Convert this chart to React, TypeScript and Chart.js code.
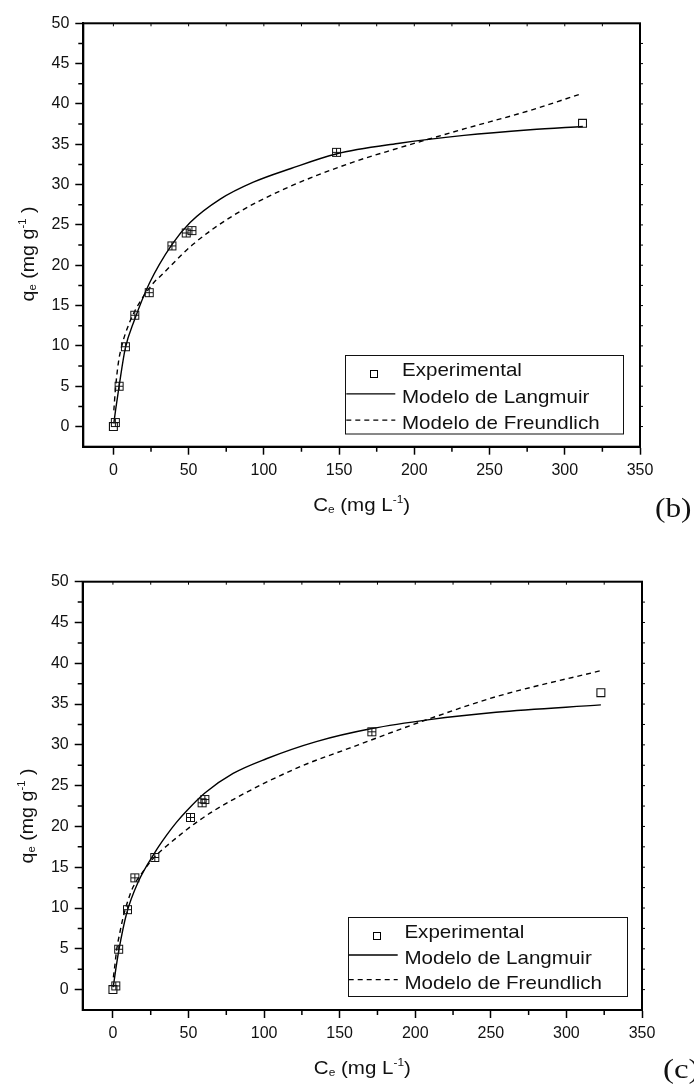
import React, { useEffect, useRef } from 'react';
import { Chart, registerables } from 'chart.js';
Chart.register(...registerables);

const FAMILY = '"Liberation Sans", Arial, sans-serif';
const SERIF = '"Liberation Serif", "Times New Roman", serif';

// ---- tick values ----
const X_TICKS = [0, 50, 100, 150, 200, 250, 300, 350];
const X_MINOR = [25, 75, 125, 175, 225, 275, 325];
const X_TOP = [0, 25, 50, 75, 100, 125, 150, 175, 200, 225, 250, 275, 300, 325];
const Y_TICKS = [0, 5, 10, 15, 20, 25, 30, 35, 40, 45, 50];
const Y_MINOR = [2.5, 7.5, 12.5, 17.5, 22.5, 27.5, 32.5, 37.5, 42.5, 47.5];
const Y_RIGHT = [0, 2.5, 5, 7.5, 10, 12.5, 15, 17.5, 20, 22.5, 25, 27.5, 30, 32.5, 35, 37.5, 40, 42.5, 45, 47.5];

// ---- labels ----
const SERIES_LABELS = ['Experimental', 'Modelo de Langmuir', 'Modelo de Freundlich'];

// ---- panel (b) ----
const CE_EXP_B = [0, 1.3, 3.8, 8.0, 14.2, 23.8, 38.9, 48.4, 52.2, 148.3, 311.8];
const QE_EXP_B = [0, 0.5, 5.0, 9.9, 13.8, 16.6, 22.4, 24.0, 24.3, 34.0, 37.6];
const CE_LANG_B = [0.3, 1.5, 3.8, 7.8, 14, 24, 39, 51, 71, 93, 118, 148, 189, 233, 277, 312];
const QE_LANG_B = [0.4, 2.1, 5.0, 9.6, 13.2, 17.8, 22.6, 25.3, 28.2, 30.3, 32.0, 33.8, 35.1, 36.1, 36.8, 37.2];
const CE_FREU_B = [0.3, 1.3, 3.3, 6, 10.5, 15.6, 26.6, 31, 53, 80, 113, 158, 189, 233, 277, 310];
const QE_FREU_B = [2.0, 4.5, 7.9, 10.3, 12.8, 14.8, 17.8, 18.6, 22.6, 26.2, 29.4, 32.7, 34.5, 36.9, 39.2, 41.2];

// ---- panel (c) ----
const CE_EXP_C = [0, 1.9, 3.8, 9.6, 14.5, 27.7, 51.3, 59, 60.8, 171.3, 322.8];
const QE_EXP_C = [0, 0.45, 4.95, 9.8, 13.7, 16.2, 21.1, 22.9, 23.3, 31.6, 36.4];
const CE_LANG_C = [0.2, 1.5, 3.9, 9, 16.7, 27.7, 35.4, 42, 48.7, 60.8, 79.5, 101.5, 134.5, 171.3, 209.4, 253.4, 322.8];
const QE_LANG_C = [0.3, 2.0, 4.8, 9.3, 13.2, 16.8, 18.9, 20.5, 21.9, 24.1, 26.5, 28.3, 30.4, 32.0, 33.1, 34.0, 34.9];
const CE_FREU_C = [0.3, 1.3, 2.4, 4.6, 6.8, 10.1, 13.4, 20, 27.7, 35.5, 57.5, 79.5, 123.5, 156.5, 209.4, 253.4, 322.8];
const QE_FREU_C = [1.5, 3.0, 4.8, 7.0, 8.9, 11.0, 12.6, 14.5, 16.3, 17.6, 20.8, 23.3, 27.3, 29.6, 33.2, 35.9, 39.1];

const zip = (xs: number[], ys: number[]) => xs.map((x, i) => ({ x, y: ys[i] }));

type Part = { t: string; size: number; dy: number };
const SUB = 11;
const X_TITLE: Part[] = [
  { t: 'C', size: 19, dy: 0 },
  { t: 'e', size: SUB, dy: 2 },
  { t: ' (mg L', size: 19, dy: 0 },
  { t: '-1', size: SUB, dy: -8 },
  { t: ')', size: 19, dy: 0 },
];
const Y_TITLE: Part[] = [
  { t: 'q', size: 19, dy: 0 },
  { t: 'e', size: SUB, dy: 2 },
  { t: ' (mg g', size: 19, dy: 0 },
  { t: '-1', size: SUB, dy: -8 },
  { t: ' )', size: 19, dy: 0 },
];

function drawRich(ctx: CanvasRenderingContext2D, parts: Part[], cx: number, baseline: number, targetW: number) {
  let w = 0;
  for (const p of parts) {
    ctx.font = `${p.size}px ${FAMILY}`;
    w += ctx.measureText(p.t).width;
  }
  const sx = targetW / w;
  ctx.save();
  ctx.translate(cx - targetW / 2, baseline);
  ctx.scale(sx, 1);
  ctx.textBaseline = 'alphabetic';
  ctx.textAlign = 'left';
  let x = 0;
  for (const p of parts) {
    ctx.font = `${p.size}px ${FAMILY}`;
    ctx.fillText(p.t, x, p.dy);
    x += ctx.measureText(p.t).width;
  }
  ctx.restore();
}

function drawStretched(ctx: CanvasRenderingContext2D, text: string, font: string, x: number, y: number, sx: number) {
  ctx.save();
  ctx.font = font;
  ctx.translate(x, y);
  ctx.scale(sx, 1);
  ctx.textAlign = 'left';
  ctx.textBaseline = 'alphabetic';
  ctx.fillText(text, 0, 0);
  ctx.restore();
}

type PanelCfg = {
  H: number;
  area: { left: number; right: number; top: number; bottom: number };
  exp: { x: number; y: number }[];
  lang: { x: number; y: number }[];
  freu: { x: number; y: number }[];
  panelLabel: string;
  panelX: number;
  panelY: number;
  xTitleY: number;
  yTitleX: number;
  yTitleCY: number;
  legend: { right: number; bottom: number; w: number; h: number; rows: number[] };
};

function makeDecor(cfg: PanelCfg) {
  return {
    id: 'decor',
    afterDraw(chart: any) {
      const { ctx, chartArea: a, scales } = chart;
      const x = scales.x;
      const y = scales.y;
      ctx.save();
      ctx.strokeStyle = '#000';
      ctx.fillStyle = '#000';
      // minor + opposite ticks
      ctx.lineWidth = 1.5;
      ctx.beginPath();
      for (const v of X_MINOR) {
        const px = x.getPixelForValue(v);
        ctx.moveTo(px, a.bottom);
        ctx.lineTo(px, a.bottom + 5);
      }
      for (const v of Y_MINOR) {
        const py = y.getPixelForValue(v);
        ctx.moveTo(a.left, py);
        ctx.lineTo(a.left - 5, py);
      }
      ctx.stroke();
      ctx.lineWidth = 1;
      ctx.beginPath();
      for (const v of X_TOP) {
        const px = x.getPixelForValue(v);
        ctx.moveTo(px, a.top);
        ctx.lineTo(px, a.top + 3);
      }
      for (const v of Y_RIGHT) {
        const py = y.getPixelForValue(v);
        ctx.moveTo(a.right, py);
        ctx.lineTo(a.right + 3, py);
      }
      ctx.stroke();
      // frame
      ctx.lineWidth = 2;
      ctx.strokeRect(a.left, a.top, a.right - a.left, a.bottom - a.top);

      // axis titles
      ctx.fillStyle = '#111';
      drawRich(ctx, X_TITLE, (a.left + a.right) / 2, cfg.xTitleY, 97);
      ctx.save();
      ctx.translate(cfg.yTitleX, cfg.yTitleCY);
      ctx.rotate(-Math.PI / 2);
      drawRich(ctx, Y_TITLE, 0, 0, 95);
      ctx.restore();

      // legend
      const L = cfg.legend;
      const bx = a.right - L.right - L.w;
      const by = a.bottom - L.bottom - L.h;
      ctx.lineWidth = 1;
      ctx.strokeStyle = '#111';
      ctx.strokeRect(Math.round(bx) + 0.5, Math.round(by) + 0.5, L.w, L.h);
      const labels: string[] = chart.data.datasets.map((d: any) => d.label);
      const lf = `19px ${FAMILY}`;
      ctx.font = lf;
      const widest = Math.max(...labels.map((t) => ctx.measureText(t).width));
      const sx = 197.6 / widest;
      labels.forEach((t, i) => {
        const base = by + L.rows[i];
        drawStretched(ctx, t, lf, bx + 56.7, base, sx);
        ctx.strokeStyle = '#000';
        if (i === 0) {
          ctx.lineWidth = 1;
          ctx.strokeRect(Math.round(bx + 28.3 - 3.5) + 0.5, Math.round(base - 2.5 - 3.5) + 0.5, 7, 7);
        } else {
          ctx.lineWidth = 1.3;
          ctx.setLineDash(i === 2 ? [5, 4] : []);
          ctx.beginPath();
          ctx.moveTo(bx + 1, base - 9);
          ctx.lineTo(bx + 50, base - 9);
          ctx.stroke();
          ctx.setLineDash([]);
        }
      });

      // panel label
      ctx.font = `27px ${SERIF}`;
      const pw = ctx.measureText(cfg.panelLabel).width;
      drawStretched(ctx, cfg.panelLabel, `27px ${SERIF}`, cfg.panelX, cfg.panelY, 36.5 / pw);
      ctx.restore();
    },
  };
}

function makeCrossImage() {
  const c = document.createElement('canvas');
  c.width = 11;
  c.height = 11;
  const g = c.getContext('2d')!;
  g.strokeStyle = '#111';
  g.lineWidth = 1;
  g.strokeRect(1.5, 1.5, 8, 8);
  g.beginPath();
  g.moveTo(5.5, 1.5);
  g.lineTo(5.5, 9.5);
  g.moveTo(1.5, 5.5);
  g.lineTo(9.5, 5.5);
  g.stroke();
  return c;
}

function buildConfig(cfg: PanelCfg, cross: HTMLCanvasElement): any {
  const W = 694;
  const last = cfg.exp.length - 1;
  return {
    type: 'scatter',
    data: {
      datasets: [
        {
          label: SERIES_LABELS[0],
          data: cfg.exp,
          showLine: false,
          pointStyle: (c: any) => (c.dataIndex === 0 || c.dataIndex === last ? 'rect' : cross),
          pointRadius: 5.6,
          pointBorderWidth: 1.1,
          pointBorderColor: '#111',
          pointBackgroundColor: 'rgba(255,255,255,0)',
        },
        {
          label: SERIES_LABELS[1],
          data: cfg.lang,
          showLine: true,
          pointRadius: 0,
          borderColor: '#000',
          borderWidth: 1.4,
          cubicInterpolationMode: 'monotone',
        },
        {
          label: SERIES_LABELS[2],
          data: cfg.freu,
          showLine: true,
          pointRadius: 0,
          borderColor: '#000',
          borderWidth: 1.4,
          borderDash: [5, 4],
          cubicInterpolationMode: 'monotone',
        },
      ],
    },
    options: {
      responsive: false,
      animation: false,
      events: [],
      layout: { padding: { left: 0, top: cfg.area.top, right: W - cfg.area.right, bottom: 0 } },
      plugins: { legend: { display: false }, tooltip: { enabled: false } },
      scales: {
        x: {
          type: 'linear',
          min: -20,
          max: 350,
          afterBuildTicks: (s: any) => {
            s.ticks = X_TICKS.map((v) => ({ value: v }));
          },
          afterFit: (s: any) => {
            s.height = cfg.H - cfg.area.bottom;
          },
          grid: { display: true, drawOnChartArea: false, drawTicks: true, tickLength: 8, tickWidth: 1.5, tickColor: '#000' },
          border: { display: true, color: '#000', width: 2 },
          ticks: { color: '#111', font: { size: 16, family: FAMILY }, padding: 6, maxRotation: 0, autoSkip: false },
        },
        y: {
          type: 'linear',
          min: -2.5,
          max: 50,
          afterBuildTicks: (s: any) => {
            s.ticks = Y_TICKS.map((v) => ({ value: v }));
          },
          afterFit: (s: any) => {
            s.width = cfg.area.left;
          },
          grid: { display: true, drawOnChartArea: false, drawTicks: true, tickLength: 8, tickWidth: 1.5, tickColor: '#000' },
          border: { display: true, color: '#000', width: 2 },
          ticks: { color: '#111', font: { size: 16, family: FAMILY }, padding: 6, autoSkip: false },
        },
      },
    },
    plugins: [makeDecor(cfg)],
  };
}

const PANEL_B: PanelCfg = {
  H: 540,
  area: { left: 83.3, right: 640, top: 23.3, bottom: 446.7 },
  exp: zip(CE_EXP_B, QE_EXP_B),
  lang: zip(CE_LANG_B, QE_LANG_B),
  freu: zip(CE_FREU_B, QE_FREU_B),
  panelLabel: '(b)',
  panelX: 655,
  panelY: 517,
  xTitleY: 511,
  yTitleX: 33.5,
  yTitleCY: 254,
  legend: { right: 16.7, bottom: 13.4, w: 278, h: 78.5, rows: [21, 48, 74.3] },
};

const PANEL_C: PanelCfg = {
  H: 548,
  area: { left: 82.7, right: 642, top: 41.7, bottom: 470 },
  exp: zip(CE_EXP_C, QE_EXP_C),
  lang: zip(CE_LANG_C, QE_LANG_C),
  freu: zip(CE_FREU_C, QE_FREU_C),
  panelLabel: '(c)',
  panelX: 663,
  panelY: 538,
  xTitleY: 534,
  yTitleX: 33,
  yTitleCY: 276,
  legend: { right: 15.3, bottom: 14.3, w: 279, h: 79, rows: [21.6, 47.3, 72] },
};

function Panel({ cfg, top }: { cfg: PanelCfg; top: number }) {
  const ref = useRef<HTMLCanvasElement | null>(null);
  useEffect(() => {
    if (!ref.current) return;
    const chart = new Chart(ref.current, buildConfig(cfg, makeCrossImage()));
    return () => chart.destroy();
  }, [cfg]);
  return (
    <div style={{ position: 'absolute', left: 0, top, width: 694, height: cfg.H }}>
      <canvas ref={ref} width={694} height={cfg.H} style={{ width: 694, height: cfg.H, display: 'block' }} />
    </div>
  );
}

export default function App() {
  return (
    <div style={{ position: 'absolute', left: 0, top: 0, width: 694, height: 1088, background: '#fff', overflow: 'hidden' }}>
      <Panel cfg={PANEL_B} top={0} />
      <Panel cfg={PANEL_C} top={540} />
    </div>
  );
}
